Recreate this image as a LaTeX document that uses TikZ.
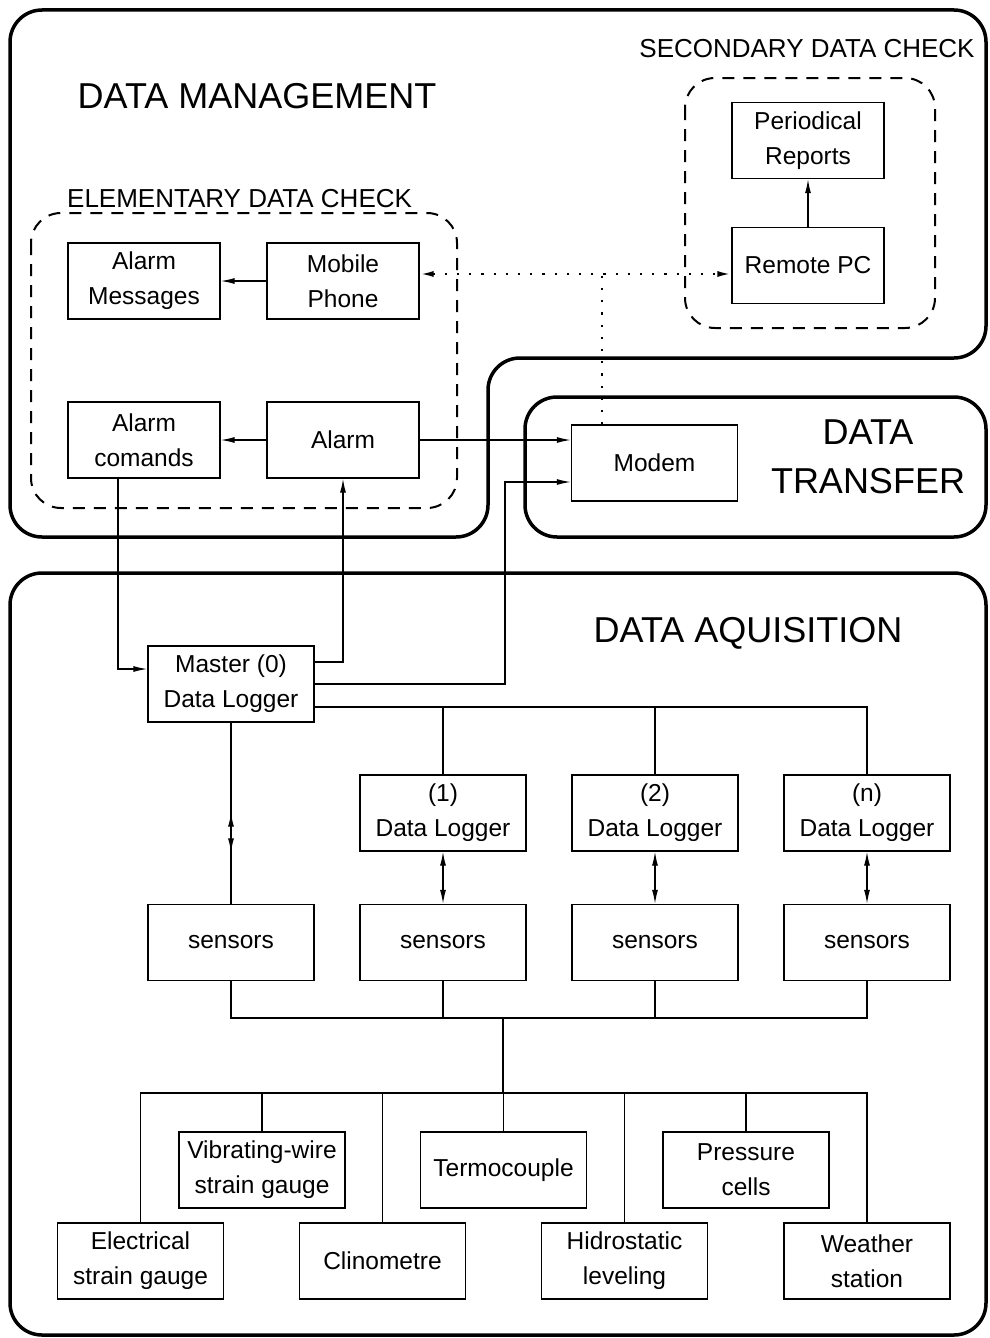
\documentclass[tikz,border=0pt]{standalone}
\usepackage{fontspec}
\setmainfont{Liberation Sans}
\usepackage{tikz}
\usetikzlibrary{arrows.meta}

\tikzset{
	box/.style={draw, line width=1.3pt, minimum width=166pt, minimum height=76pt, inner sep=0pt, align=center, font=\fontsize{24.5}{35}\selectfont},
	sbox/.style={box, minimum width=152pt},
	zone/.style={line width=3.5pt, rounded corners=32pt},
	check/.style={line width=2pt, dash pattern=on 12pt off 9pt, rounded corners=30pt},
	wire/.style={line width=1.3pt},
	arr/.style={wire, -{Latex[length=14pt,width=6pt]}},
	dblarr/.style={wire, {Latex[length=14pt,width=6pt]}-{Latex[length=14pt,width=6pt]}},
	link/.style={line width=2.2pt, dash pattern=on 2.2pt off 10pt},
	big/.style={inner sep=0pt, align=center, font=\fontsize{36}{49}\selectfont},
	mid/.style={inner sep=0pt, font=\fontsize{26}{30}\selectfont}
}

\begin{document}
\begin{tikzpicture}[x=1pt, y=-1pt]
\useasboundingbox (0,0) rectangle (989,1338);

% the three zones
\draw[zone] (10,10) -- (986,10) -- (986,358) -- (488,358) -- (488,537) -- (10,537) -- cycle;
\draw[zone] (525,397) rectangle (986,537);
\draw[zone] (10,573) rectangle (986,1335);
\draw[check] (31,213) rectangle (457,508);
\draw[check] (685,78) rectangle (935,328);

\node[big, anchor=base] (dm) at (257,108) {DATA MANAGEMENT};
\node[mid, anchor=base west] (edc) at (67,207) {ELEMENTARY DATA CHECK};
\node[mid, anchor=base] (sdc) at (807,58) {SECONDARY DATA CHECK};
\node[big] (dt) at (868,457) {DATA\\TRANSFER};
\node[big, anchor=base] (da) at (748,642) {DATA AQUISITION};

% data management
\node[sbox] (almsg) at (144,281) {Alarm\\Messages};
\node[sbox] (mobile) at (343,281) {Mobile\\Phone};
\node[sbox] (almcmd) at (144,440) {Alarm\\comands};
\node[sbox] (alarm) at (343,440) {Alarm};
\node[sbox] (reports) at (808,140.5) {Periodical\\Reports};
\node[sbox] (remote) at (808,265.5) {Remote PC};

% data transfer
\node[box] (modem) at (654.5,463) {Modem};

% data aquisition
\node[box] (master) at (231,684) {Master (0)\\Data Logger};
\node[box] (dl1) at (443,813) {(1)\\Data Logger};
\node[box] (dl2) at (655,813) {(2)\\Data Logger};
\node[box] (dln) at (867,813) {(n)\\Data Logger};
\node[box] (s0) at (231,942.5) {sensors};
\node[box] (s1) at (443,942.5) {sensors};
\node[box] (s2) at (655,942.5) {sensors};
\node[box] (sn) at (867,942.5) {sensors};
\node[box] (vib) at (262,1170) {Vibrating-wire\\strain gauge};
\node[box] (termo) at (503.5,1170) {Termocouple};
\node[box] (press) at (746,1170) {Pressure\\cells};
\node[box] (elec) at (140.5,1261) {Electrical\\strain gauge};
\node[box] (clino) at (382.5,1261) {Clinometre};
\node[box] (hidro) at (624.5,1261) {Hidrostatic\\leveling};
\node[box] (weather) at (867,1261) {Weather\\station};

\coordinate (junc) at (602,274);
\coordinate (bus) at (443,707);
\coordinate (sbus) at (503,1018);
\coordinate (hub) at (503,1093);

% connectors
\draw[arr] (mobile) -- (almsg);
\draw[arr] (alarm) -- (almcmd);
\draw[arr] (remote) -- (reports);
\draw[link, <->, >={Latex[length=14pt,width=6pt]}] (mobile.east |- junc) -- (remote.west |- junc);
\draw[link] (modem.north -| junc) -- (junc);
\draw[arr] (alarm.east) -- (modem.west |- alarm.east);
\draw[arr] (master.east) -| (505,482) -- ([yshift=-19pt]modem.west);
\draw[arr] ([xshift=-26pt]almcmd.south) |- ([yshift=15pt]master.west);
\draw[arr] ([yshift=22pt]master.east) -| (alarm.south);

\draw[wire] ([yshift=-23pt]master.east) -| (dln.north);
\draw[wire] (dl1.north) -- (dl1.north |- bus);
\draw[wire] (dl2.north) -- (dl2.north |- bus);

\draw[wire] (master) -- (s0) coordinate[pos=0.497] (up) coordinate[pos=0.716] (down);
\draw[dblarr] (up) -- (down);
\draw[dblarr] (dl1) -- (s1);
\draw[dblarr] (dl2) -- (s2);
\draw[dblarr] (dln) -- (sn);

\draw[wire] (s0.south) -- (s0.south |- sbus) -- (sn.south |- sbus) -- (sn.south);
\draw[wire] (s1.south) -- (s1.south |- sbus);
\draw[wire] (s2.south) -- (s2.south |- sbus);
\draw[wire] (sbus) -- (hub);

\draw[wire] (elec.north) -- (elec.north |- hub) -- (weather.north |- hub) -- (weather.north);
\draw[wire] (vib.north) -- (vib.north |- hub);
\draw[wire] (clino.north) -- (clino.north |- hub);
\draw[wire] (termo.north) -- (termo.north |- hub);
\draw[wire] (hidro.north) -- (hidro.north |- hub);
\draw[wire] (press.north) -- (press.north |- hub);
\end{tikzpicture}
\end{document}
